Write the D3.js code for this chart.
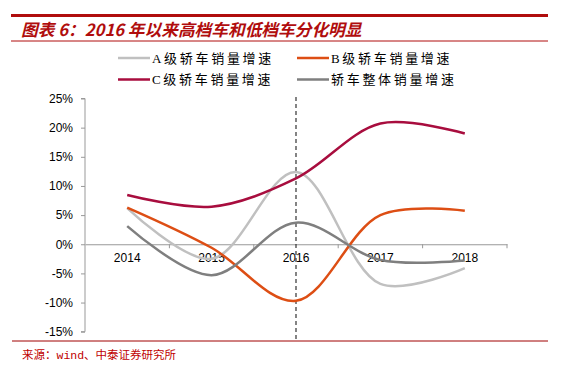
<!DOCTYPE html>
<html>
<head>
<meta charset="utf-8">
<script src="https://cdn.jsdelivr.net/npm/d3@7"></script>
<style>
  body { margin: 0; background: #fff; }
  svg { display: block; }
</style>
</head>
<body>
<svg id="svgRoot" width="571" height="373"></svg>
<script>
// data (growth in %)
const years = ["2014", "2015", "2016", "2017", "2018"]
const seriesNames = ["A级轿车销量增速", "B级轿车销量增速", "C级轿车销量增速", "轿车整体销量增速"]
const seriesA = [6.2, -2.5, 12.4, -6.8, -4.1]
const seriesB = [6.3, -0.6, -9.7, 5.0, 5.75]
const seriesC = [8.45, 6.45, 11.3, 20.7, 19.0]
const seriesTotal = [3.1, -5.3, 3.7, -2.7, -2.8]
const yTicks = [-15, -10, -5, 0, 5, 10, 15, 20, 25]
const markYear = "2016"

const colors = ["#c0c0c0", "#dd4e14", "#a80d3e", "#7f7f7f"]
const red = "#b00d0d"

let svg = d3.select("#svgRoot")

// header
svg.append("line")
  .attr("x1", 11).attr("x2", 548).attr("y1", 15.5).attr("y2", 15.5)
  .attr("stroke", red).attr("stroke-width", 3)
svg.append("text")
  .attr("x", 21).attr("y", 36)
  .attr("font-family", "'Noto Sans CJK SC', sans-serif")
  .attr("font-size", "16.7px")
  .attr("font-weight", "bold")
  .attr("font-style", "italic")
  .attr("fill", red)
  .text("图表 6：2016 年以来高档车和低档车分化明显")
svg.append("line")
  .attr("x1", 11).attr("x2", 548).attr("y1", 41).attr("y2", 41)
  .attr("stroke", red).attr("stroke-width", 1)

const margin = { left: 85, right: 64, top: 98.5, bottom: 41.3 }
const width = 571
const height = 373

let x = d3.scaleBand()
  .domain(years)
  .range([margin.left, width - margin.right])

let y = d3.scaleLinear()
  .domain([-15, 25])
  .range([height - margin.bottom, margin.top])

// y axis
let g_yAxis = svg.append("g")
  .attr("transform", "translate(" + margin.left + ",0)")
  .call(d3.axisLeft(y).tickValues(yTicks).tickFormat((d) => d + "%").tickSize(4).tickPadding(8))
g_yAxis.selectAll("path, line").attr("stroke", "#999")
g_yAxis.selectAll("text")
  .attr("font-family", "'Liberation Sans', Arial, sans-serif")
  .attr("font-size", "12px")
  .attr("fill", "#000")
g_yAxis.select(".domain").attr("d", "M-4," + y(-15) + "H0V" + y(25) + "H-4")

// x axis along the 0% line, labels centred in each band
let g_xAxis = svg.append("g")
  .attr("transform", "translate(0," + y(0) + ")")
  .call(d3.axisBottom(x).tickSize(0).tickPadding(9))
g_xAxis.select(".domain").attr("stroke", "#999")
g_xAxis.selectAll("text")
  .attr("font-family", "'Liberation Sans', Arial, sans-serif")
  .attr("font-size", "12px")
  .attr("fill", "#000")

// tick marks sit on the band edges
g_xAxis.selectAll(".edgeTick")
  .data(years.slice(1).map((d) => x(d)).concat([x(years[years.length - 1]) + x.bandwidth()]))
  .enter()
  .append("line")
  .attr("class", "edgeTick")
  .attr("x1", (d) => d).attr("x2", (d) => d)
  .attr("y1", 0).attr("y2", 4)
  .attr("stroke", "#999")

// dashed marker at 2016
let markX = x(markYear) + x.bandwidth() / 2
svg.append("line")
  .attr("x1", markX).attr("x2", markX)
  .attr("y1", 97).attr("y2", 341)
  .attr("stroke", "#333")
  .attr("stroke-width", 1.2)
  .attr("stroke-dasharray", "4,3")

// lines
const allSeries = [seriesA, seriesB, seriesC, seriesTotal]
let line = d3.line()
  .x((d, i) => x(years[i]) + x.bandwidth() / 2)
  .y((d) => y(d))
  .curve(d3.curveCatmullRom.alpha(0.5))

svg.append("g").selectAll(".series")
  .data(allSeries)
  .enter()
  .append("path")
  .attr("class", "series")
  .attr("d", (d) => line(d))
  .attr("fill", "none")
  .attr("stroke", (d, i) => colors[i])
  .attr("stroke-width", 2.5)

// legend
const legendPos = [[118, 58], [297, 58], [118, 79.5], [297, 79.5]]
let legend = svg.append("g").selectAll(".legendItem")
  .data(seriesNames)
  .enter()
  .append("g")
  .attr("class", "legendItem")
  .attr("transform", (d, i) => "translate(" + legendPos[i][0] + "," + legendPos[i][1] + ")")
legend.append("line")
  .attr("x1", 0).attr("x2", 32).attr("y1", 0).attr("y2", 0)
  .attr("stroke", (d, i) => colors[i])
  .attr("stroke-width", 2.5)
legend.append("text")
  .attr("x", 34).attr("y", 4.5)
  .attr("font-family", "'Liberation Serif', 'Noto Sans CJK SC', serif")
  .attr("font-size", "13px")
  .attr("letter-spacing", "2.7px")
  .attr("fill", "#000")
  .text((d) => d)

// footer
svg.append("line")
  .attr("x1", 12).attr("x2", 548).attr("y1", 341).attr("y2", 341)
  .attr("stroke", "#a00000").attr("stroke-width", 1)
svg.append("text")
  .attr("x", 22).attr("y", 359)
  .attr("font-family", "'Liberation Mono', 'Noto Sans CJK SC', monospace")
  .attr("font-size", "11.5px")
  .attr("fill", "#c00000")
  .text("来源：wind、中泰证券研究所")
</script>
</body>
</html>
